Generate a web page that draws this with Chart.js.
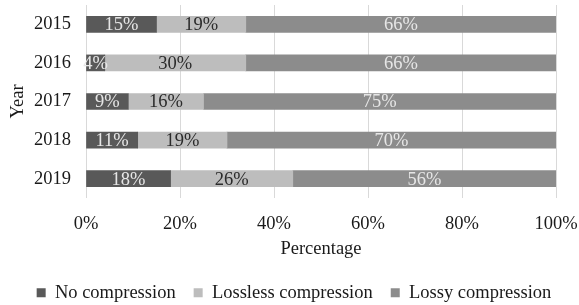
<!DOCTYPE html>
<html>
<head>
<meta charset="utf-8">
<script src="https://cdn.jsdelivr.net/npm/chart.js@4"></script>
<style>
    html, body { margin: 0; padding: 0; background: #fff; }
    #wrap { width: 579px; height: 305px; }
</style>
</head>
<body>
<div id="wrap"><canvas id="compChart"></canvas></div>
<script>
const years = ['2015', '2016', '2017', '2018', '2019'];
const noCompression = [15, 4, 9, 11, 18];
const lossless = [19, 30, 16, 19, 26];
const lossy = [66, 66, 75, 70, 56];
const xTicks = [0, 20, 40, 60, 80, 100];

const serif = 'Liberation Serif';
const fontSize = 18.5;

// draws the percentage in the middle of each segment
const segmentLabels = {
    id: 'segmentLabels',
    afterLayout(chart) {
        // legend sits a bit right of the canvas centre in the original
        chart.legend.left += 16;
        chart.legend.right += 16;
    },
    afterDatasetsDraw(chart) {
        const ctx = chart.ctx;
        ctx.save();
        ctx.font = fontSize + 'px "' + serif + '"';
        ctx.textAlign = 'center';
        ctx.textBaseline = 'middle';
        chart.data.datasets.forEach((ds, i) => {
            const meta = chart.getDatasetMeta(i);
            meta.data.forEach((bar, j) => {
                const mid = (bar.x + bar.base) / 2;
                ctx.fillStyle = ds.labelColor;
                ctx.fillText(ds.data[j] + '%', mid, bar.y + 1);
            });
        });
        ctx.restore();
    }
};

document.addEventListener('DOMContentLoaded', () => {
    const ctx = document.getElementById('compChart').getContext('2d');

    new Chart(ctx, {
        type: 'bar',
        data: {
            labels: years,
            datasets: [{
                label: 'No compression',
                data: noCompression,
                backgroundColor: '#595959',
                labelColor: '#e6e6e6'
            }, {
                label: 'Lossless compression',
                data: lossless,
                backgroundColor: '#bdbdbd',
                labelColor: '#2b2b2b'
            }, {
                label: 'Lossy compression',
                data: lossy,
                backgroundColor: '#8c8c8c',
                labelColor: '#e6e6e6'
            }]
        },
        options: {
            indexAxis: 'y',
            responsive: true,
            maintainAspectRatio: false,
            animation: false,
            barThickness: 16,
            layout: {
                padding: { top: 5, right: 23, left: 0, bottom: -7 }
            },
            plugins: {
                legend: {
                    position: 'bottom',
                    labels: {
                        boxWidth: 9,
                        boxHeight: 9,
                        padding: 18,
                        color: '#1a1a1a',
                        font: { family: serif, size: fontSize }
                    }
                },
                tooltip: { enabled: false }
            },
            scales: {
                x: {
                    stacked: true,
                    min: 0,
                    max: 100,
                    afterBuildTicks: axis => {
                        axis.ticks = xTicks.map(v => ({ value: v }));
                    },
                    afterFit: axis => {
                        axis.height = 67.5;
                        axis.paddingLeft = 0;
                        axis.paddingRight = 0;
                    },
                    grid: { color: '#d9d9d9', drawTicks: false },
                    border: { display: false },
                    ticks: {
                        padding: 15,
                        color: '#1a1a1a',
                        font: { family: serif, size: fontSize },
                        callback: v => v + '%'
                    },
                    title: {
                        display: true,
                        text: 'Percentage',
                        color: '#1a1a1a',
                        font: { family: serif, size: fontSize },
                        padding: { top: 0, bottom: 5.5 }
                    }
                },
                y: {
                    stacked: true,
                    afterFit: axis => {
                        axis.width = 86;
                        axis.paddingTop = 0;
                        axis.paddingBottom = 0;
                    },
                    grid: { display: false, drawTicks: false },
                    border: { display: false },
                    ticks: {
                        padding: 15,
                        color: '#1a1a1a',
                        font: { family: serif, size: fontSize }
                    },
                    title: {
                        display: true,
                        text: 'Year',
                        color: '#1a1a1a',
                        font: { family: serif, size: fontSize },
                        padding: { top: 7, bottom: 0 }
                    }
                }
            }
        },
        plugins: [segmentLabels]
    });
});
</script>
</body>
</html>
